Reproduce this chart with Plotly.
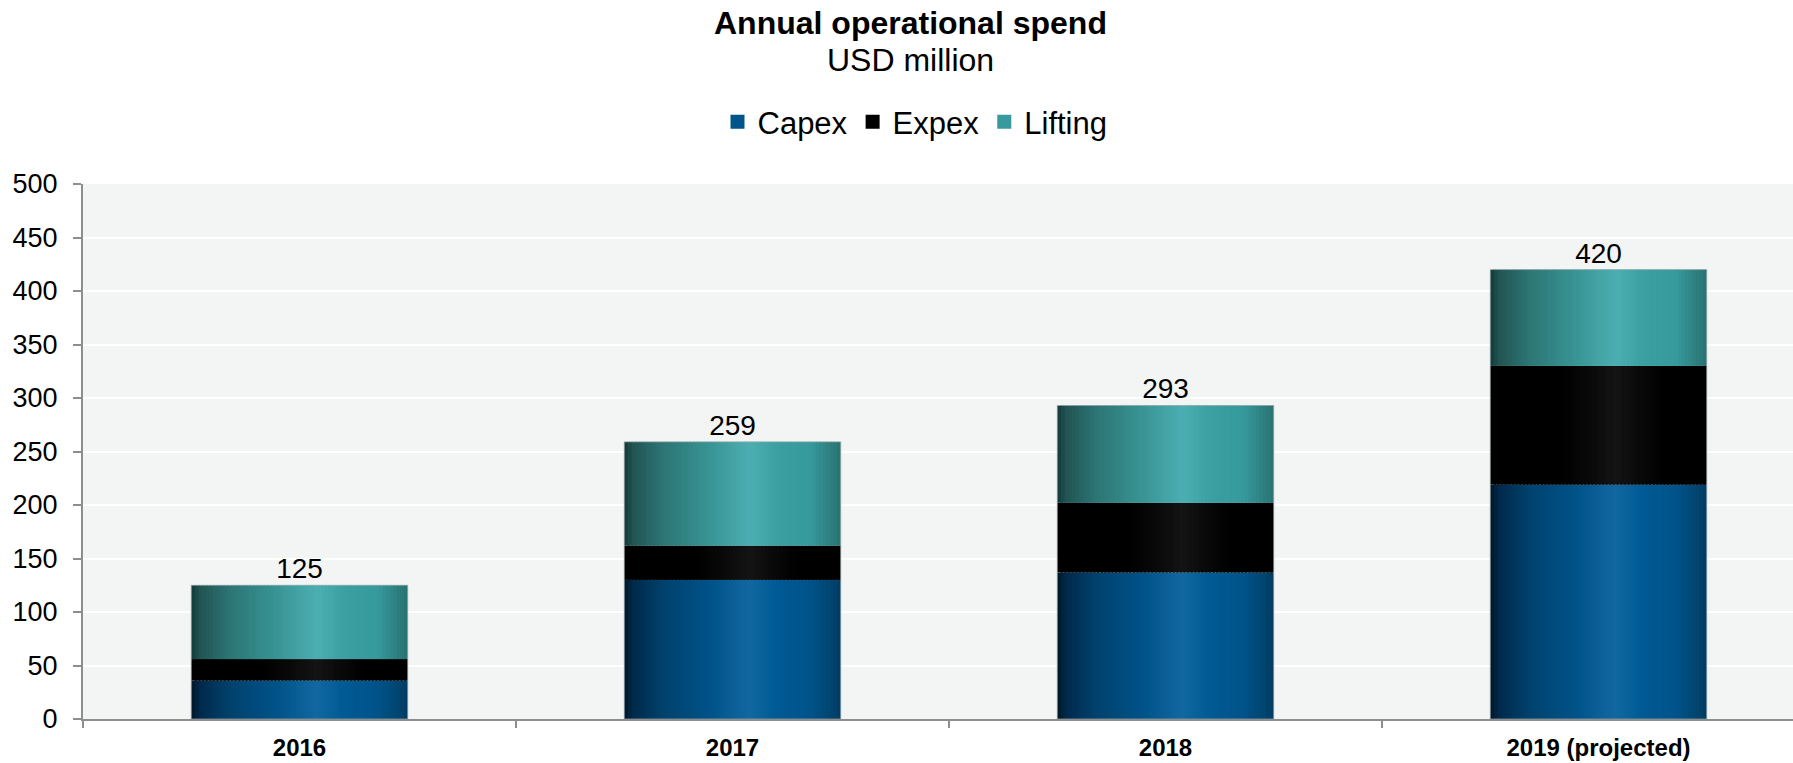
import plotly.graph_objects as go

# ---- data (USD million) ----
years = ["2016", "2017", "2018", "2019 (projected)"]
capex = [36, 130, 137, 219]
expex = [20, 32, 65, 111]
lifting = [69, 97, 91, 90]
totals = [c + e + l for c, e, l in zip(capex, expex, lifting)]
y_ticks = [0, 50, 100, 150, 200, 250, 300, 350, 400, 450, 500]

# ---- styling ----
FONT = "Liberation Sans, Arial, sans-serif"
W, H = 1793, 763
ML, MR, MT, MB = 83, 0, 184, 44
PLOT_W = W - ML - MR
PLOT_H = H - MT - MB
CAT_PX = 433.0
BAR_W = 0.5
N_STRIPS = 60

# horizontal shading profile for each series: (position across bar, colour)
shade = {
    "Capex": [(0.0, "#001626"), (0.04, "#00294a"), (0.18, "#00426e"), (0.40, "#005389"),
              (0.58, "#1268a1"), (0.70, "#005a94"), (0.86, "#00538a"), (0.96, "#00446f"),
              (1.0, "#003a60")],
    "Expex": [(0.0, "#000000"), (0.33, "#000000"), (0.48, "#0b0b0b"), (0.58, "#141414"),
              (0.68, "#0a0a0a"), (0.80, "#000000"), (1.0, "#000000")],
    "Lifting": [(0.0, "#123a39"), (0.04, "#215453"), (0.18, "#2d7575"), (0.40, "#399595"),
                (0.58, "#4caeb2"), (0.70, "#3ca0a3"), (0.86, "#36999b"), (0.96, "#2e7d7e"),
                (1.0, "#2a7272")],
}
legend_color = {"Capex": "#00568a", "Expex": "#000000", "Lifting": "#389a9e"}


def hex_rgb(h):
    h = h.lstrip("#")
    return tuple(int(h[i:i + 2], 16) for i in (0, 2, 4))


def sample(stops, t):
    for (t0, c0), (t1, c1) in zip(stops[:-1], stops[1:]):
        if t0 <= t <= t1:
            f = 0 if t1 == t0 else (t - t0) / (t1 - t0)
            a, b = hex_rgb(c0), hex_rgb(c1)
            r, g, bl = (round(a[i] + (b[i] - a[i]) * f) for i in range(3))
            return f"rgb({r},{g},{bl})"
    return stops[-1][1]


series = [("Capex", capex), ("Expex", expex), ("Lifting", lifting)]

fig = go.Figure()

# stacked segments, each drawn as a run of thin overlapping strips to give the shading
base = [0] * len(years)
for name, vals in series:
    step = BAR_W / N_STRIPS
    for k in range(N_STRIPS):
        off = -BAR_W / 2 + k * step
        wid = min(step * 1.6, BAR_W / 2 - off)
        fig.add_trace(go.Bar(
            x=years, y=vals, base=base,
            offset=off, width=wid,
            marker=dict(color=sample(shade[name], (k + 0.5) / N_STRIPS), line=dict(width=0)),
            showlegend=False, hoverinfo="skip", legendgroup=name,
        ))
    base = [b + v for b, v in zip(base, vals)]

# thin outline around each stacked column
fig.add_trace(go.Bar(
    x=years, y=totals, base=[0] * len(years), offset=-BAR_W / 2, width=BAR_W,
    marker=dict(color="rgba(0,0,0,0)", line=dict(color="rgba(150,170,170,0.7)", width=1)),
    showlegend=False, hoverinfo="skip",
))

# legend entries
for name, vals in series:
    fig.add_trace(go.Bar(
        x=years, y=[None] * len(years), name=name,
        marker=dict(color=legend_color[name], line=dict(color=legend_color[name], width=2)),
        legendgroup=name,
    ))

# total labels above columns
fig.add_trace(go.Scatter(
    x=years, y=totals, mode="text", text=[str(t) for t in totals],
    textposition="top center", showlegend=False, hoverinfo="skip",
    textfont=dict(family=FONT, size=28, color="#000000"),
))


def px_to_paper_x(px):
    return (px - ML) / PLOT_W


def px_to_paper_y(py):
    return (H - MB - py) / PLOT_H


fig.add_annotation(xref="paper", yref="paper", x=px_to_paper_x(910), y=px_to_paper_y(23),
                   text="<b>Annual operational spend</b>", showarrow=False,
                   xanchor="center", yanchor="middle",
                   font=dict(family=FONT, size=32, color="#000000"))
fig.add_annotation(xref="paper", yref="paper", x=px_to_paper_x(910), y=px_to_paper_y(60),
                   text="USD million", showarrow=False,
                   xanchor="center", yanchor="middle",
                   font=dict(family=FONT, size=32, color="#000000"))

fig.update_layout(
    width=W, height=H,
    margin=dict(l=ML, r=MR, t=MT, b=MB, pad=0),
    barmode="overlay",
    paper_bgcolor="#ffffff",
    plot_bgcolor="#f3f5f4",
    font=dict(family=FONT, color="#000000"),
    showlegend=True,
    legend=dict(orientation="h", x=px_to_paper_x(915), y=px_to_paper_y(122),
                xanchor="center", yanchor="middle",
                font=dict(family=FONT, size=31, color="#000000"),
                itemwidth=30, tracegroupgap=0, bgcolor="rgba(0,0,0,0)"),
    xaxis=dict(
        type="category", categoryorder="array", categoryarray=years,
        range=[-0.5, -0.5 + PLOT_W / CAT_PX],
        showgrid=False, zeroline=False,
        showline=True, linecolor="#8e8e8e", linewidth=2,
        ticks="outside", tickson="boundaries", ticklen=7, tickwidth=1.5, tickcolor="#8e8e8e",
        tickfont=dict(family=FONT, size=24, color="#000000", weight="bold"),
        ticklabelstandoff=6,
        fixedrange=True,
    ),
    yaxis=dict(
        range=[0, 500], tickvals=y_ticks,
        showgrid=True, gridcolor="#ffffff", gridwidth=2,
        zeroline=False,
        showline=True, linecolor="#8e8e8e", linewidth=2,
        ticks="outside", ticklen=8, tickwidth=1.5, tickcolor="#8e8e8e",
        tickfont=dict(family=FONT, size=27, color="#000000"),
        ticklabelstandoff=10,
        fixedrange=True,
    ),
)

fig.write_html("out.html", include_plotlyjs=True, config={"displayModeBar": False})
